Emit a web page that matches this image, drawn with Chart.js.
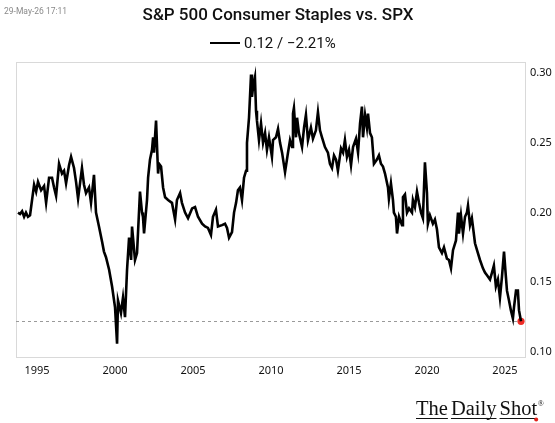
<!DOCTYPE html>
<html>
<head>
<meta charset="utf-8">
<script src="https://cdn.jsdelivr.net/npm/chart.js@4/dist/chart.umd.min.js"></script>
<style>
  html, body { margin: 0; padding: 0; background: #fff; }
  #wrap { width: 555px; height: 423px; }
</style>
</head>
<body>
<div id="wrap"><canvas id="chart" width="555" height="423"></canvas></div>
<script>
// Ratio S&P 500 Consumer Staples / SPX
const years = [
  1993.78, 1993.91, 1994.04, 1994.17, 1994.29, 1994.42, 1994.55, 1994.62, 1994.81, 1994.94,
  1995.06, 1995.26, 1995.45, 1995.58, 1995.77, 1995.96, 1996.09, 1996.22, 1996.41, 1996.60,
  1996.73, 1996.86, 1997.05, 1997.18, 1997.37, 1997.50, 1997.63, 1997.88, 1998.01, 1998.14,
  1998.33, 1998.46, 1998.65, 1998.78, 1998.97, 1999.17, 1999.29, 1999.42, 1999.62, 1999.81,
  2000.00, 2000.13, 2000.19, 2000.38, 2000.51, 2000.64, 2000.77, 2000.90, 2001.03, 2001.09,
  2001.28, 2001.41, 2001.60, 2001.73, 2001.79, 2001.86, 2002.05, 2002.12, 2002.24, 2002.37,
  2002.44, 2002.50, 2002.63, 2002.76, 2002.82, 2002.95, 2003.08, 2003.21, 2003.40, 2003.65,
  2003.85, 2003.97, 2004.17, 2004.29, 2004.49, 2004.68, 2004.94, 2005.13, 2005.32, 2005.58,
  2005.77, 2005.96, 2006.15, 2006.28, 2006.47, 2006.60, 2006.86, 2007.05, 2007.18, 2007.31,
  2007.50, 2007.63, 2007.76, 2007.88, 2008.01, 2008.14, 2008.27, 2008.40, 2008.46, 2008.59,
  2008.72, 2008.78, 2008.85, 2008.97, 2009.04, 2009.10, 2009.23, 2009.36, 2009.49, 2009.62,
  2009.74, 2009.87, 2010.06, 2010.13, 2010.32, 2010.45, 2010.58, 2010.71, 2010.90, 2011.09,
  2011.22, 2011.35, 2011.41, 2011.47, 2011.60, 2011.67, 2011.79, 2011.99, 2012.12, 2012.24,
  2012.37, 2012.56, 2012.69, 2012.88, 2013.01, 2013.14, 2013.27, 2013.46, 2013.65, 2013.78,
  2013.91, 2014.04, 2014.17, 2014.29, 2014.49, 2014.62, 2014.74, 2014.87, 2015.00, 2015.13,
  2015.26, 2015.45, 2015.58, 2015.71, 2015.83, 2015.90, 2016.03, 2016.15, 2016.22, 2016.35,
  2016.47, 2016.60, 2016.79, 2016.92, 2017.05, 2017.18, 2017.31, 2017.50, 2017.56, 2017.69,
  2017.82, 2017.88, 2018.01, 2018.08, 2018.21, 2018.40, 2018.46, 2018.59, 2018.72, 2018.85,
  2019.04, 2019.10, 2019.23, 2019.36, 2019.49, 2019.62, 2019.74, 2019.87, 2020.00, 2020.06,
  2020.19, 2020.38, 2020.51, 2020.64, 2020.77, 2020.96, 2021.09, 2021.28, 2021.41, 2021.54,
  2021.67, 2021.86, 2021.99, 2022.05, 2022.18, 2022.31, 2022.44, 2022.56, 2022.63, 2022.76,
  2022.88, 2023.08, 2023.21, 2023.40, 2023.59, 2023.72, 2023.85, 2024.04, 2024.17, 2024.29,
  2024.42, 2024.55, 2024.68, 2024.81, 2024.94, 2025.06, 2025.13, 2025.26, 2025.38, 2025.51,
  2025.58, 2025.71, 2025.83, 2025.90, 2026.03
];
const ratio = [
  0.200, 0.199, 0.201, 0.197, 0.200, 0.197, 0.198, 0.204, 0.220, 0.215,
  0.222, 0.216, 0.219, 0.207, 0.225, 0.225, 0.218, 0.212, 0.235, 0.228,
  0.230, 0.221, 0.234, 0.240, 0.232, 0.222, 0.210, 0.232, 0.220, 0.214,
  0.218, 0.207, 0.227, 0.200, 0.190, 0.179, 0.172, 0.168, 0.159, 0.147,
  0.132, 0.106, 0.137, 0.128, 0.139, 0.125, 0.159, 0.182, 0.166, 0.190,
  0.166, 0.171, 0.215, 0.200, 0.197, 0.185, 0.209, 0.225, 0.238, 0.245,
  0.254, 0.243, 0.266, 0.228, 0.235, 0.233, 0.218, 0.211, 0.209, 0.207,
  0.195, 0.209, 0.214, 0.207, 0.200, 0.196, 0.203, 0.204, 0.197, 0.192,
  0.190, 0.189, 0.184, 0.197, 0.202, 0.190, 0.191, 0.192, 0.189, 0.182,
  0.186, 0.200, 0.207, 0.216, 0.218, 0.209, 0.225, 0.230, 0.250, 0.268,
  0.299, 0.283, 0.290, 0.297, 0.273, 0.266, 0.252, 0.264, 0.250, 0.257,
  0.245, 0.254, 0.240, 0.252, 0.254, 0.260, 0.250, 0.243, 0.229, 0.243,
  0.252, 0.247, 0.271, 0.275, 0.254, 0.268, 0.257, 0.247, 0.261, 0.270,
  0.252, 0.261, 0.253, 0.259, 0.272, 0.259, 0.254, 0.247, 0.243, 0.235,
  0.232, 0.241, 0.238, 0.230, 0.246, 0.243, 0.252, 0.240, 0.245, 0.234,
  0.247, 0.253, 0.243, 0.264, 0.276, 0.254, 0.270, 0.261, 0.271, 0.257,
  0.254, 0.235, 0.238, 0.241, 0.235, 0.233, 0.228, 0.218, 0.210, 0.221,
  0.209, 0.200, 0.197, 0.185, 0.197, 0.191, 0.211, 0.213, 0.200, 0.203,
  0.200, 0.209, 0.204, 0.215, 0.207, 0.200, 0.196, 0.236, 0.214, 0.192,
  0.198, 0.192, 0.195, 0.188, 0.175, 0.171, 0.175, 0.167, 0.166, 0.160,
  0.173, 0.180, 0.200, 0.185, 0.198, 0.185, 0.197, 0.200, 0.205, 0.191,
  0.196, 0.178, 0.173, 0.166, 0.160, 0.157, 0.155, 0.152, 0.157, 0.162,
  0.147, 0.152, 0.139, 0.154, 0.172, 0.154, 0.144, 0.137, 0.130, 0.124,
  0.132, 0.144, 0.144, 0.130, 0.122
];
const xTicks = [1995, 2000, 2005, 2010, 2015, 2020, 2025];
const yTicks = [0.10, 0.15, 0.20, 0.25, 0.30];

const titleText = 'S&P 500 Consumer Staples vs. SPX';
const legendText = '0.12 / \u22122.21%';
const stampText = '29-May-26 17:11';

const points = years.map((x, i) => ({ x: x, y: ratio[i] }));
const lastPoint = points[points.length - 1];

// Cadre, ligne pointillée, titres et logo
const decorations = {
    id: 'decorations',
    beforeDatasetsDraw(chart) {
        const { ctx, chartArea: a, scales } = chart;
        ctx.save();
        ctx.strokeStyle = '#d9d9d9';
        ctx.lineWidth = 1;
        ctx.strokeRect(a.left + 0.5, a.top + 0.5, a.right - a.left - 1, a.bottom - a.top - 1);

        const yLast = Math.round(scales.y.getPixelForValue(lastPoint.y)) + 0.5;
        ctx.strokeStyle = '#9a9a9a';
        ctx.setLineDash([3, 3]);
        ctx.beginPath();
        ctx.moveTo(a.left, yLast);
        ctx.lineTo(a.right, yLast);
        ctx.stroke();
        ctx.restore();
    },
    afterDraw(chart) {
        const ctx = chart.ctx;
        ctx.save();
        // horodatage
        ctx.fillStyle = '#8a8a8a';
        ctx.font = '8.5px Roboto';
        ctx.textAlign = 'left';
        ctx.textBaseline = 'middle';
        ctx.fillText(stampText, 4, 12);

        // titre
        ctx.fillStyle = '#111';
        ctx.font = '500 17px Roboto';
        ctx.textAlign = 'center';
        ctx.textBaseline = 'alphabetic';
        ctx.fillText(titleText, 278, 20);

        // légende
        ctx.fillStyle = '#000';
        ctx.fillRect(210, 42, 30, 2);
        ctx.fillStyle = '#111';
        ctx.font = '15px Roboto';
        ctx.textAlign = 'left';
        ctx.fillText(legendText, 244, 48);

        // logo
        ctx.font = '20.5px "Liberation Serif", "DejaVu Serif", serif';
        ctx.fillStyle = '#111';
        ctx.textAlign = 'left';
        const logoX = 416, logoY = 415;
        const words = ['The', 'Daily', 'Shot'];
        let cx = logoX;
        words.forEach((w, i) => {
            const wd = ctx.measureText(w).width;
            ctx.fillText(w, cx, logoY);
            ctx.fillRect(cx, logoY + 3, wd, 1);
            cx += wd + (i < words.length - 1 ? ctx.measureText(' ').width * 0.6 : 0);
        });
        ctx.font = '8px "Liberation Serif", serif';
        ctx.fillText('\u00AE', cx + 0.5, logoY - 9);
        ctx.fillStyle = '#e0201b';
        ctx.beginPath();
        ctx.arc(cx - 1, logoY + 4.5, 2, 0, Math.PI * 2);
        ctx.fill();
        ctx.restore();
    }
};

const ctx = document.getElementById('chart').getContext('2d');
new Chart(ctx, {
    type: 'line',
    data: {
        datasets: [{
            label: legendText,
            data: points,
            borderColor: '#000',
            borderWidth: 2.6,
            pointRadius: 0,
            tension: 0,
            fill: false
        }, {
            label: 'last',
            data: [lastPoint],
            showLine: false,
            pointRadius: 3.6,
            pointBackgroundColor: '#ee2b25',
            pointBorderWidth: 0
        }]
    },
    options: {
        responsive: false,
        animation: false,
        layout: { padding: { top: 62, left: 16, right: 0, bottom: 0 } },
        plugins: {
            legend: { display: false },
            title: { display: false },
            tooltip: { enabled: false }
        },
        scales: {
            x: {
                type: 'linear',
                min: 1993.65,
                max: 2026.35,
                grid: { display: false, drawTicks: false },
                border: { display: false },
                afterBuildTicks: s => { s.ticks = xTicks.map(v => ({ value: v })); },
                afterFit: s => { s.height = 65; },
                ticks: {
                    padding: 6,
                    maxRotation: 0,
                    autoSkip: false,
                    color: '#111',
                    font: { family: 'Noto Sans', size: 11 },
                    callback: v => String(v)
                }
            },
            y: {
                position: 'right',
                min: 0.0957,
                max: 0.308,
                grid: { display: false, drawTicks: false },
                border: { display: false },
                afterBuildTicks: s => { s.ticks = yTicks.map(v => ({ value: v })); },
                afterFit: s => { s.width = 29; },
                ticks: {
                    padding: 4,
                    color: '#111',
                    font: { family: 'Noto Sans', size: 11 },
                    callback: v => v.toFixed(2)
                }
            }
        }
    },
    plugins: [decorations]
});
</script>
</body>
</html>
